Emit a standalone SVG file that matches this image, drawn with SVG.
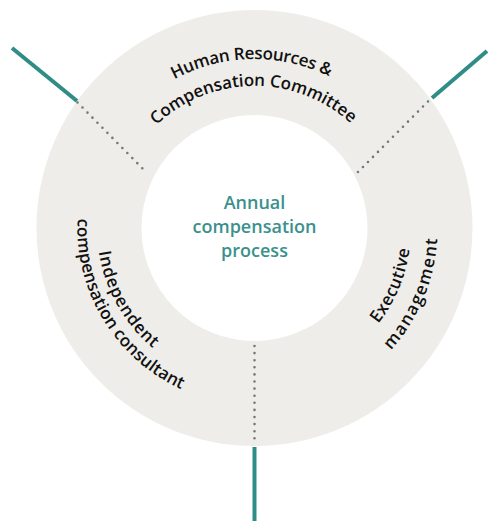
<svg xmlns="http://www.w3.org/2000/svg" width="488" height="521" viewBox="0 0 488 521">
  <style>
    .ring-label { font-family: "Open Sans", "Liberation Sans", sans-serif; font-size: 17px; font-weight: 600; fill: #111111; }
    .center-label { font-family: "Open Sans", "Liberation Sans", sans-serif; font-size: 18px; font-weight: 600; fill: #3a918c; }
    .teal { stroke: #2f8c87; stroke-width: 4; fill: none; }
    .dots { stroke: #777777; stroke-width: 2.6; stroke-linecap: round; stroke-dasharray: 0 7.1; fill: none; }
  </style>
  <defs>
    <path id="arcHR" d="M87.6,201.6 A169,169 0 0 1 420.4,195.8"/>
    <path id="arcCC" d="M114.4,204.6 A142,142 0 0 1 394.1,202.1"/>
    <path id="arcCons" d="M137.8,94.9 A177,177 0 0 0 318.6,393.0"/>
    <path id="arcInd" d="M154.9,106.0 A157.5,157.5 0 0 0 306.4,376.7"/>
    <path id="arcExec" d="M220.1,380.7 A156.5,156.5 0 0 0 339.0,96.3"/>
    <path id="arcMgmt" d="M214.6,406.6 A183,183 0 0 0 353.1,73.8"/>
  </defs>
  <rect width="488" height="521" fill="#ffffff"/>
  <g id="ring">
    <circle cx="254.5" cy="228" r="165.5" fill="none" stroke="#efede9" stroke-width="105"/>
  </g>
  <g id="connectors">
    <line class="teal" x1="12" y1="48" x2="77" y2="101"/>
    <line class="teal" x1="432" y1="98" x2="487" y2="51"/>
    <line class="teal" x1="254.5" y1="447" x2="254.5" y2="521"/>
    <line class="dots" x1="77.5" y1="102.5" x2="147" y2="173"/>
    <line class="dots" x1="428" y1="101.5" x2="357" y2="173"/>
    <line class="dots" x1="254.5" y1="346" x2="254.5" y2="439.5"/>
  </g>
  <g id="node-center">
    <text class="center-label" x="254.5" y="208.5" text-anchor="middle">Annual</text>
    <text class="center-label" x="254.5" y="232.7" text-anchor="middle">compensation</text>
    <text class="center-label" x="254.5" y="256.7" text-anchor="middle">process</text>
  </g>
  <g id="node-hrcc">
    <text class="ring-label" text-anchor="middle"><textPath href="#arcHR" startOffset="50%" textLength="161">Human Resources &amp;</textPath></text>
    <text class="ring-label" text-anchor="middle"><textPath href="#arcCC" startOffset="50%" textLength="214">Compensation Committee</textPath></text>
  </g>
  <g id="node-consultant">
    <text class="ring-label" text-anchor="middle"><textPath href="#arcInd" startOffset="50%" textLength="113">Independent</textPath></text>
    <text class="ring-label" text-anchor="middle"><textPath href="#arcCons" startOffset="50%" textLength="212">compensation consultant</textPath></text>
  </g>
  <g id="node-executive">
    <text class="ring-label" text-anchor="middle"><textPath href="#arcExec" startOffset="50%" textLength="82">Executive</textPath></text>
    <text class="ring-label" text-anchor="middle"><textPath href="#arcMgmt" startOffset="50%" textLength="123">management</textPath></text>
  </g>
</svg>
